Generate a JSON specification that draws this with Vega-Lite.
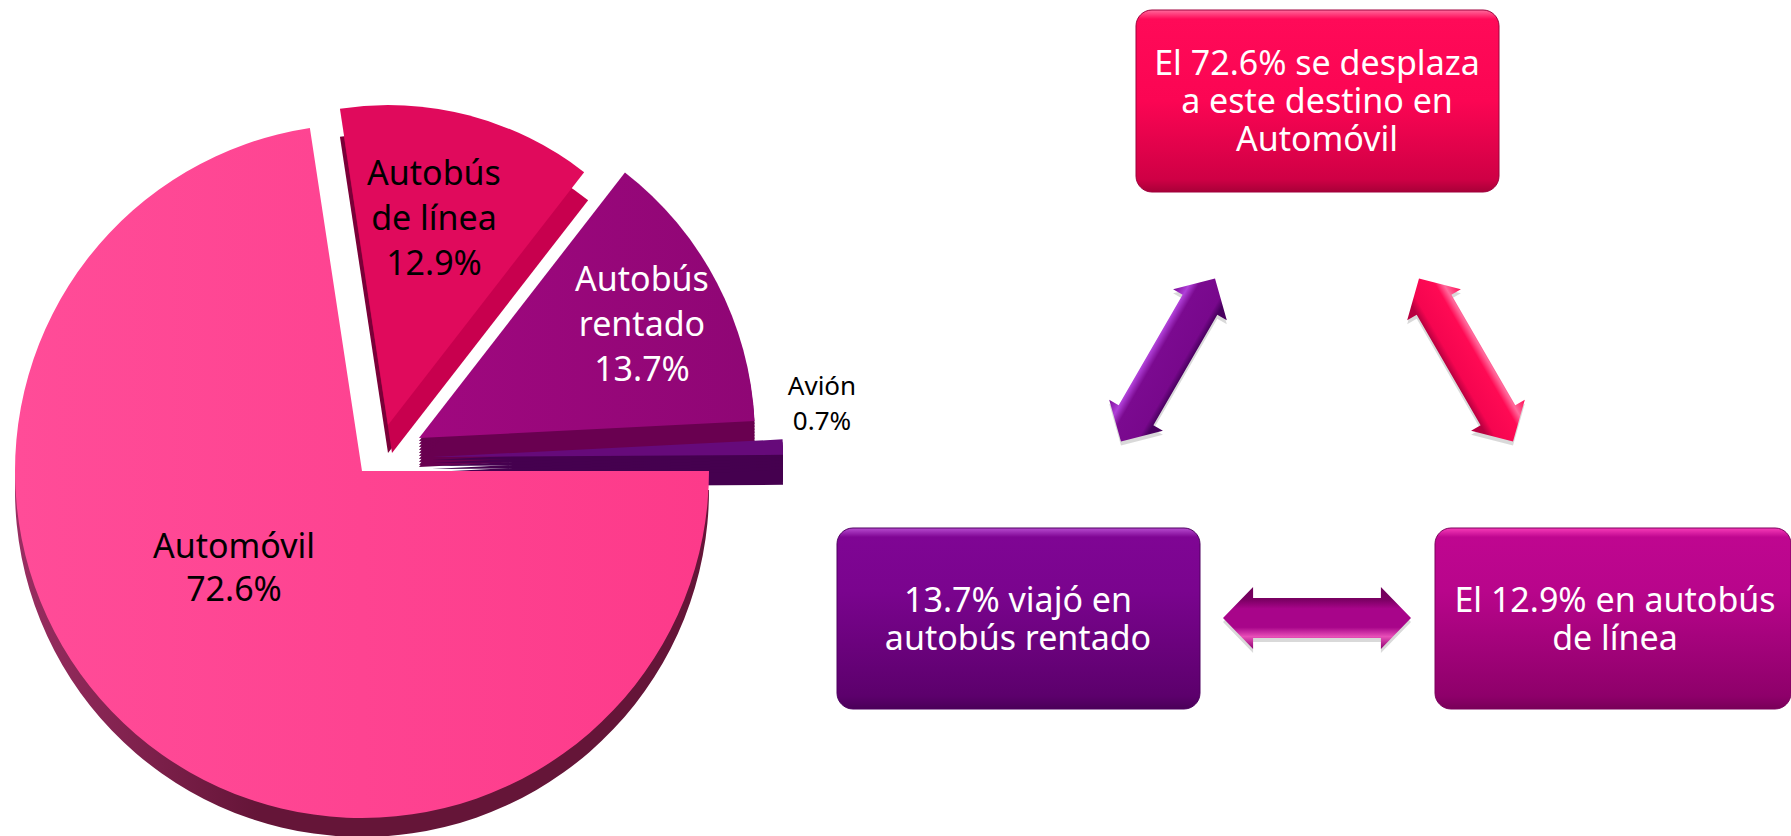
{"$schema":"https://vega.github.io/schema/vega-lite/v6.json","width":1791,"height":836,"padding":0,"autosize":"none","background":"white","config":{"view":{"stroke":null}},
"datasets":{"pie":[{"orden":1,"medio":"Automóvil","pct":72.6,"label":"Automóvil\n72.6%"},{"orden":2,"medio":"Autobús de línea","pct":12.9,"label":"Autobús\nde línea\n12.9%"},{"orden":3,"medio":"Autobús rentado","pct":13.7,"label":"Autobús\nrentado\n13.7%"},{"orden":4,"medio":"Avión","pct":0.7,"label":"Avión\n0.7%"}],
"cajas":[{"medio":"Automóvil","texto":"El 72.6% se desplaza\na este destino en\nAutomóvil"},{"medio":"Autobús rentado","texto":"13.7% viajó en\nautobús rentado"},{"medio":"Autobús de línea","texto":"El 12.9% en autobús\nde línea"}],
"flechas":[{"enlace":"Autobús rentado - Automóvil"},{"enlace":"Automóvil - Autobús de línea"},{"enlace":"Autobús rentado - Autobús de línea"}]},
"layer":[
{"data":{"name":"pie"},"transform":[{"stack":"pct","groupby":[],"sort":[{"field":"orden","order":"ascending"}],"as":["start","end"]}],
"layer":[
{"transform":[{"filter":"datum.medio==='Autobús rentado'"}],"encoding":{"x":{"datum":419,"type":"quantitative","axis":null,"scale":{"domain":[0,1791],"range":[0,1791]}},"y":{"datum":438,"type":"quantitative","axis":null,"scale":{"domain":[0,836],"range":[0,836]}},"theta":{"field":"start","type":"quantitative","scale":{"domain":[0,100],"range":[1.5708,7.854]}},"theta2":{"field":"end"}},
"layer":[{"mark":{"type":"arc","radius":336,"yOffset":3,"fill":"#690050"}},{"mark":{"type":"arc","radius":336,"yOffset":6,"fill":"#690050"}},{"mark":{"type":"arc","radius":336,"yOffset":9,"fill":"#690050"}},{"mark":{"type":"arc","radius":336,"yOffset":12,"fill":"#690050"}},{"mark":{"type":"arc","radius":336,"yOffset":15,"fill":"#690050"}},{"mark":{"type":"arc","radius":336,"yOffset":18,"fill":"#690050"}},{"mark":{"type":"arc","radius":336,"yOffset":21,"fill":"#690050"}},{"mark":{"type":"arc","radius":336,"yOffset":24,"fill":"#690050"}},{"mark":{"type":"arc","radius":336,"yOffset":27,"fill":"#690050"}},{"mark":{"type":"arc","radius":336,"yOffset":29,"fill":"#690050"}},{"mark":{"type":"arc","radius":336,"fill":{"gradient":"linear","x1":0,"y1":0,"x2":1,"y2":0,"stops":[{"offset":0,"color":"#a0087f"},{"offset":1,"color":"#8f0675"}]}}}]},
{"transform":[{"filter":"datum.medio==='Avión'"}],"encoding":{"x":{"datum":432,"type":"quantitative","axis":null,"scale":{"domain":[0,1791],"range":[0,1791]}},"y":{"datum":457,"type":"quantitative","axis":null,"scale":{"domain":[0,836],"range":[0,836]}},"theta":{"field":"start","type":"quantitative","scale":{"domain":[0,100],"range":[1.5708,7.854]}},"theta2":{"field":"end"}},
"layer":[{"mark":{"type":"arc","radius":351,"yOffset":3,"fill":"#45004f"}},{"mark":{"type":"arc","radius":351,"yOffset":6,"fill":"#45004f"}},{"mark":{"type":"arc","radius":351,"yOffset":9,"fill":"#45004f"}},{"mark":{"type":"arc","radius":351,"yOffset":12,"fill":"#45004f"}},{"mark":{"type":"arc","radius":351,"yOffset":15,"fill":"#45004f"}},{"mark":{"type":"arc","radius":351,"yOffset":18,"fill":"#45004f"}},{"mark":{"type":"arc","radius":351,"yOffset":21,"fill":"#45004f"}},{"mark":{"type":"arc","radius":351,"yOffset":24,"fill":"#45004f"}},{"mark":{"type":"arc","radius":351,"yOffset":27,"fill":"#45004f"}},{"mark":{"type":"arc","radius":351,"yOffset":30,"fill":"#45004f"}},{"mark":{"type":"arc","radius":351,"fill":"#660a7a"}}]},
{"transform":[{"filter":"datum.medio==='Autobús de línea'"}],"encoding":{"x":{"datum":388,"type":"quantitative","axis":null,"scale":{"domain":[0,1791],"range":[0,1791]}},"y":{"datum":425,"type":"quantitative","axis":null,"scale":{"domain":[0,836],"range":[0,836]}},"theta":{"field":"start","type":"quantitative","scale":{"domain":[0,100],"range":[1.5708,7.854]}},"theta2":{"field":"end"}},
"layer":[{"mark":{"type":"arc","radius":320,"yOffset":28,"fill":"#7a0038"}},{"mark":{"type":"arc","radius":320,"yOffset":28,"xOffset":4,"fill":"#c8004e"}},{"mark":{"type":"arc","radius":320,"fill":"#e00a5c"}}]},
{"transform":[{"filter":"datum.medio==='Automóvil'"}],"encoding":{"x":{"datum":362,"type":"quantitative","axis":null,"scale":{"domain":[0,1791],"range":[0,1791]}},"y":{"datum":471,"type":"quantitative","axis":null,"scale":{"domain":[0,836],"range":[0,836]}},"theta":{"field":"start","type":"quantitative","scale":{"domain":[0,100],"range":[1.5708,7.854]}},"theta2":{"field":"end"}},
"layer":[{"mark":{"type":"arc","radius":347,"yOffset":19,"fill":{"gradient":"linear","x1":0,"y1":0,"x2":1,"y2":0,"stops":[{"offset":0,"color":"#9a2e62"},{"offset":0.35,"color":"#651538"},{"offset":1,"color":"#651538"}]}}},{"mark":{"type":"arc","radius":347,"fill":{"gradient":"linear","x1":0,"y1":0,"x2":1,"y2":0,"stops":[{"offset":0,"color":"#ff4c98"},{"offset":1,"color":"#fd3a8a"}]}}}]},
{"transform":[{"filter":"datum.medio==='Automóvil'"}],"mark":{"type":"text","font":"Noto Sans","fontSize":34,"lineHeight":43,"lineBreak":"\n","align":"center","baseline":"middle","fill":"#000000"},"encoding":{"text":{"field":"label"},"x":{"datum":234,"type":"quantitative","axis":null,"scale":{"domain":[0,1791],"range":[0,1791]}},"y":{"datum":548,"type":"quantitative","axis":null,"scale":{"domain":[0,836],"range":[0,836]}}}},
{"transform":[{"filter":"datum.medio==='Autobús de línea'"}],"mark":{"type":"text","font":"Noto Sans","fontSize":34,"lineHeight":45,"lineBreak":"\n","align":"center","baseline":"middle","fill":"#000000"},"encoding":{"text":{"field":"label"},"x":{"datum":434,"type":"quantitative","axis":null,"scale":{"domain":[0,1791],"range":[0,1791]}},"y":{"datum":175,"type":"quantitative","axis":null,"scale":{"domain":[0,836],"range":[0,836]}}}},
{"transform":[{"filter":"datum.medio==='Autobús rentado'"}],"mark":{"type":"text","font":"Noto Sans","fontSize":34,"lineHeight":45,"lineBreak":"\n","align":"center","baseline":"middle","fill":"#ffffff"},"encoding":{"text":{"field":"label"},"x":{"datum":642,"type":"quantitative","axis":null,"scale":{"domain":[0,1791],"range":[0,1791]}},"y":{"datum":281,"type":"quantitative","axis":null,"scale":{"domain":[0,836],"range":[0,836]}}}},
{"transform":[{"filter":"datum.medio==='Avión'"}],"mark":{"type":"text","font":"Noto Sans","fontSize":26,"lineHeight":35,"lineBreak":"\n","align":"center","baseline":"middle","fill":"#000000"},"encoding":{"text":{"field":"label"},"x":{"datum":822,"type":"quantitative","axis":null,"scale":{"domain":[0,1791],"range":[0,1791]}},"y":{"datum":387,"type":"quantitative","axis":null,"scale":{"domain":[0,836],"range":[0,836]}}}}
]},
{"data":{"name":"cajas"},"layer":[
{"transform":[{"filter":"datum.medio==='Automóvil'"}],"encoding":{"x":{"datum":1136,"type":"quantitative","axis":null,"scale":{"domain":[0,1791],"range":[0,1791]}},"x2":{"datum":1499},"y":{"datum":10,"type":"quantitative","axis":null,"scale":{"domain":[0,836],"range":[0,836]}},"y2":{"datum":192}},
"layer":[{"mark":{"type":"rect","cornerRadius":16,"yOffset":5,"fill":"#000000","opacity":0.18}},{"mark":{"type":"rect","cornerRadius":16,"stroke":"#a0003c","strokeWidth":1,"fill":{"gradient":"linear","x1":0,"y1":0,"x2":0,"y2":1,"stops":[{"offset":0,"color":"#ff6a9c"},{"offset":0.05,"color":"#ff0a58"},{"offset":0.5,"color":"#fb0553"},{"offset":0.93,"color":"#cf0045"},{"offset":1,"color":"#a80038"}]}}}]},
{"transform":[{"filter":"datum.medio==='Autobús rentado'"}],"encoding":{"x":{"datum":837,"type":"quantitative","axis":null,"scale":{"domain":[0,1791],"range":[0,1791]}},"x2":{"datum":1200},"y":{"datum":528,"type":"quantitative","axis":null,"scale":{"domain":[0,836],"range":[0,836]}},"y2":{"datum":709}},
"layer":[{"mark":{"type":"rect","cornerRadius":16,"yOffset":5,"fill":"#000000","opacity":0.18}},{"mark":{"type":"rect","cornerRadius":16,"stroke":"#4e0060","strokeWidth":1,"fill":{"gradient":"linear","x1":0,"y1":0,"x2":0,"y2":1,"stops":[{"offset":0,"color":"#b84cd0"},{"offset":0.05,"color":"#7f0594"},{"offset":0.35,"color":"#7a048e"},{"offset":0.93,"color":"#5c006c"},{"offset":1,"color":"#4a0058"}]}}}]},
{"transform":[{"filter":"datum.medio==='Autobús de línea'"}],"encoding":{"x":{"datum":1435,"type":"quantitative","axis":null,"scale":{"domain":[0,1791],"range":[0,1791]}},"x2":{"datum":1791},"y":{"datum":528,"type":"quantitative","axis":null,"scale":{"domain":[0,836],"range":[0,836]}},"y2":{"datum":709}},
"layer":[{"mark":{"type":"rect","cornerRadius":16,"yOffset":5,"fill":"#000000","opacity":0.18}},{"mark":{"type":"rect","cornerRadius":16,"stroke":"#7c005c","strokeWidth":1,"fill":{"gradient":"linear","x1":0,"y1":0,"x2":0,"y2":1,"stops":[{"offset":0,"color":"#f83cb8"},{"offset":0.05,"color":"#bf0690"},{"offset":0.35,"color":"#b8058b"},{"offset":0.93,"color":"#8e006a"},{"offset":1,"color":"#780058"}]}}}]},
{"transform":[{"filter":"datum.medio==='Automóvil'"}],"mark":{"type":"text","font":"Noto Sans","fontSize":34,"lineHeight":38,"lineBreak":"\n","align":"center","baseline":"middle","fill":"#ffffff"},"encoding":{"text":{"field":"texto"},"x":{"datum":1317,"type":"quantitative","axis":null,"scale":{"domain":[0,1791],"range":[0,1791]}},"y":{"datum":65,"type":"quantitative","axis":null,"scale":{"domain":[0,836],"range":[0,836]}}}},
{"transform":[{"filter":"datum.medio==='Autobús rentado'"}],"mark":{"type":"text","font":"Noto Sans","fontSize":34,"lineHeight":38,"lineBreak":"\n","align":"center","baseline":"middle","fill":"#ffffff"},"encoding":{"text":{"field":"texto"},"x":{"datum":1018,"type":"quantitative","axis":null,"scale":{"domain":[0,1791],"range":[0,1791]}},"y":{"datum":602,"type":"quantitative","axis":null,"scale":{"domain":[0,836],"range":[0,836]}}}},
{"transform":[{"filter":"datum.medio==='Autobús de línea'"}],"mark":{"type":"text","font":"Noto Sans","fontSize":34,"lineHeight":38,"lineBreak":"\n","align":"center","baseline":"middle","fill":"#ffffff"},"encoding":{"text":{"field":"texto"},"x":{"datum":1615,"type":"quantitative","axis":null,"scale":{"domain":[0,1791],"range":[0,1791]}},"y":{"datum":602,"type":"quantitative","axis":null,"scale":{"domain":[0,836],"range":[0,836]}}}}
]},
{"data":{"name":"flechas"},"layer":[
{"transform":[{"filter":"datum.enlace==='Autobús rentado - Automóvil'"}],"encoding":{"x":{"datum":1168,"type":"quantitative","axis":null,"scale":{"domain":[0,1791],"range":[0,1791]}},"y":{"datum":360,"type":"quantitative","axis":null,"scale":{"domain":[0,836],"range":[0,836]}}},
"layer":[{"mark":{"type":"point","shape":"M-1 0L-0.68 -0.33L-0.68 -0.213L0.68 -0.213L0.68 -0.33L1 0L0.68 0.33L0.68 0.213L-0.68 0.213L-0.68 0.33Z","size":35344,"angle":-60,"filled":true,"yOffset":4,"fill":"#000000","opacity":0.15,"strokeWidth":0}},{"mark":{"type":"point","shape":"M-1 0L-0.68 -0.33L-0.68 -0.213L0.68 -0.213L0.68 -0.33L1 0L0.68 0.33L0.68 0.213L-0.68 0.213L-0.68 0.33Z","size":35344,"angle":-60,"filled":true,"opacity":1,"strokeWidth":0,"fill":{"gradient":"linear","x1":0,"y1":0,"x2":0,"y2":1,"stops":[{"offset":0,"color":"#7a0a96"},{"offset":0.19,"color":"#b040d8"},{"offset":0.32,"color":"#7b0a90"},{"offset":0.72,"color":"#78088c"},{"offset":0.82,"color":"#4a0060"},{"offset":1,"color":"#4a0060"}]}}}]},
{"transform":[{"filter":"datum.enlace==='Automóvil - Autobús de línea'"}],"encoding":{"x":{"datum":1466,"type":"quantitative","axis":null,"scale":{"domain":[0,1791],"range":[0,1791]}},"y":{"datum":360,"type":"quantitative","axis":null,"scale":{"domain":[0,836],"range":[0,836]}}},
"layer":[{"mark":{"type":"point","shape":"M-1 0L-0.68 -0.33L-0.68 -0.213L0.68 -0.213L0.68 -0.33L1 0L0.68 0.33L0.68 0.213L-0.68 0.213L-0.68 0.33Z","size":35344,"angle":60,"filled":true,"yOffset":4,"fill":"#000000","opacity":0.15,"strokeWidth":0}},{"mark":{"type":"point","shape":"M-1 0L-0.68 -0.33L-0.68 -0.213L0.68 -0.213L0.68 -0.33L1 0L0.68 0.33L0.68 0.213L-0.68 0.213L-0.68 0.33Z","size":35344,"angle":60,"filled":true,"opacity":1,"strokeWidth":0,"fill":{"gradient":"linear","x1":0,"y1":0,"x2":0,"y2":1,"stops":[{"offset":0,"color":"#ff0a54"},{"offset":0.2,"color":"#ff6a9c"},{"offset":0.32,"color":"#ff0a54"},{"offset":0.7,"color":"#f50550"},{"offset":0.82,"color":"#b80040"},{"offset":1,"color":"#b80040"}]}}}]},
{"transform":[{"filter":"datum.enlace==='Autobús rentado - Autobús de línea'"}],"encoding":{"x":{"datum":1317,"type":"quantitative","axis":null,"scale":{"domain":[0,1791],"range":[0,1791]}},"y":{"datum":618,"type":"quantitative","axis":null,"scale":{"domain":[0,836],"range":[0,836]}}},
"layer":[{"mark":{"type":"point","shape":"M-1 0L-0.68 -0.33L-0.68 -0.213L0.68 -0.213L0.68 -0.33L1 0L0.68 0.33L0.68 0.213L-0.68 0.213L-0.68 0.33Z","size":35344,"filled":true,"yOffset":4,"fill":"#000000","opacity":0.15,"strokeWidth":0}},{"mark":{"type":"point","shape":"M-1 0L-0.68 -0.33L-0.68 -0.213L0.68 -0.213L0.68 -0.33L1 0L0.68 0.33L0.68 0.213L-0.68 0.213L-0.68 0.33Z","size":35344,"filled":true,"opacity":1,"strokeWidth":0,"fill":{"gradient":"linear","x1":0,"y1":0,"x2":0,"y2":1,"stops":[{"offset":0,"color":"#6e0058"},{"offset":0.2,"color":"#7a0062"},{"offset":0.35,"color":"#a8058a"},{"offset":0.65,"color":"#a8058a"},{"offset":0.8,"color":"#e850b8"},{"offset":1,"color":"#8e0070"}]}}}]}
]}
]}
